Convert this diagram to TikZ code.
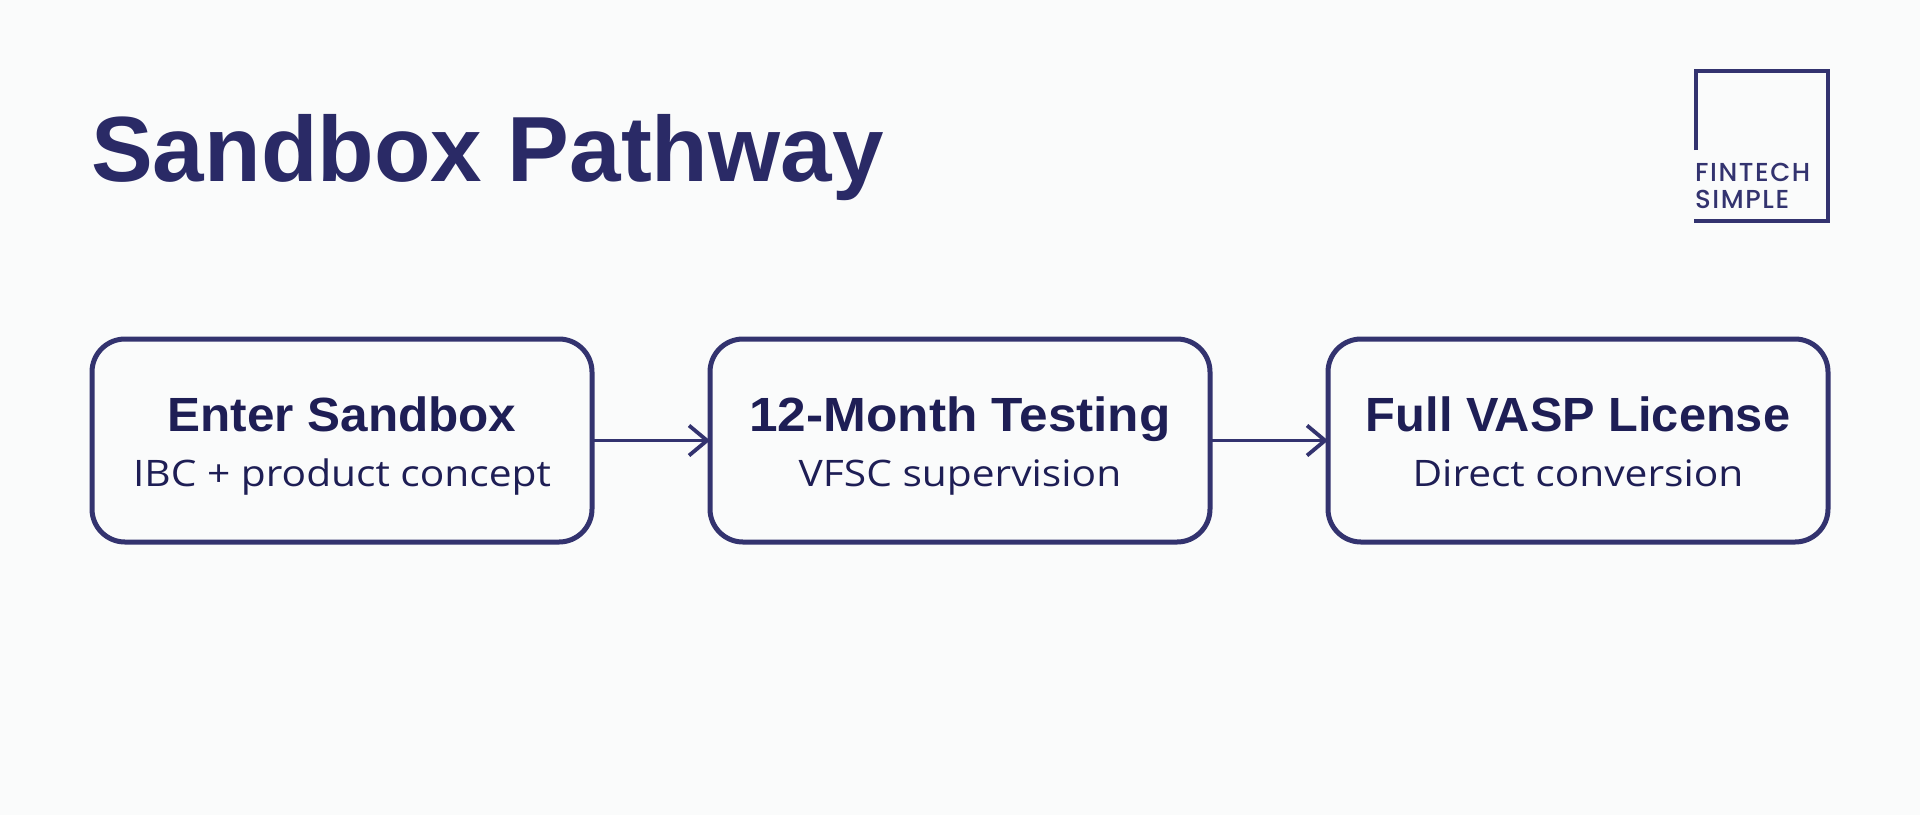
\documentclass[tikz,border=0pt]{standalone}
\usepackage{fontspec}
\usetikzlibrary{arrows.meta}
\setmainfont{Liberation Sans}
\newfontfamily\logofont[LetterSpace=6]{Poppins Medium}
\newfontfamily\subfont{Open Sans}
\definecolor{bgc}{HTML}{FAFBFB}
\definecolor{navy}{HTML}{2A2A66}
\definecolor{linec}{HTML}{33336F}
\definecolor{inkc}{HTML}{1E1E55}
\tikzset{
  flowbox/.style={draw=linec,line width=5pt,rounded corners=33pt,minimum width=500pt,minimum height=203pt,outer sep=0pt,inner sep=0pt,text=inkc},
  flowlink/.style={draw=linec,line width=3.8pt,-{Straight Barb[length=18pt,width=30pt,line width=3.8pt]}},
  logotext/.style={anchor=base west,text=linec,inner sep=0pt,font=\logofont\fontsize{26}{30}\selectfont}
}
\newcommand{\boxlabel}[3]{\vbox{\hsize=480pt\baselineskip=0pt\lineskip=0pt\lineskiplimit=-100pt
  \hbox to 480pt{\hss\rule{0pt}{36.7pt}\smash{\fontsize{48}{54}\selectfont\bfseries\scalebox{#1}[1]{#2}}\hss}
  \kern54.7pt
  \hbox to 480pt{\hss\smash{\subfont\fontsize{36.5}{46}\selectfont\scalebox{1.115}[1]{#3}}\hss}}}
\begin{document}
\begin{tikzpicture}[x=1pt,y=-1pt]
\path[fill=bgc] (0,0) rectangle (1920,815);
\useasboundingbox (0,0) rectangle (1920,815);
\node[anchor=base west,text=navy,inner sep=0pt,font=\fontsize{92.6}{100}\selectfont\bfseries] (title) at (91,181) {Sandbox Pathway};
\draw[linec,line width=4pt] (1696,150) -- (1696,71) -- (1828,71) -- (1828,221) -- (1694,221);
\node[logotext] (logoa) at (1695,181) {FINTECH};
\node[logotext] (logob) at (1695,208) {SIMPLE};
\node[flowbox] (b1) at (342,440.5) {\boxlabel{1.03}{Enter Sandbox}{IBC + product concept}};
\node[flowbox] (b2) at (960,440.5) {\boxlabel{1.07}{12-Month Testing}{VFSC supervision}};
\node[flowbox] (b3) at (1578,440.5) {\boxlabel{1.015}{Full VASP License}{Direct conversion}};
\draw[flowlink] (b1.east) -- (b2.west);
\draw[flowlink] (b2.east) -- (b3.west);
\end{tikzpicture}
\end{document}
